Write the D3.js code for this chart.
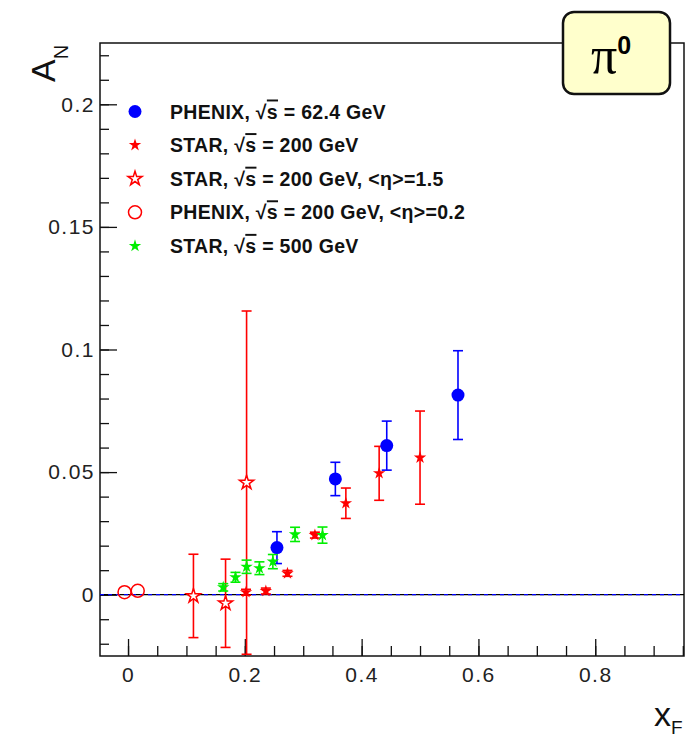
<!DOCTYPE html>
<html>
<head>
<meta charset="utf-8">
<script src="https://cdn.jsdelivr.net/npm/d3@7"></script>
<style>
  body { margin: 0; background: #fff; }
  svg { display: block; }
  text { font-family: "Liberation Sans", Arial, Helvetica, sans-serif; }
</style>
</head>
<body>
<div id="chart"></div>
<script>
// PHENIX sqrt(s) = 62.4 GeV
var phenix62X   = [0.255, 0.355, 0.443, 0.565];
var phenix62Y   = [0.0192, 0.0472, 0.0608, 0.0814];
var phenix62Err = [0.0065, 0.0068, 0.0100, 0.0181];

// STAR sqrt(s) = 200 GeV
var star200X   = [0.202, 0.236, 0.273, 0.320, 0.373, 0.430, 0.500];
var star200Y   = [0.0010, 0.0015, 0.0087, 0.0243, 0.0373, 0.0495, 0.0559];
var star200Err = [0.0012, 0.0012, 0.0012, 0.0012, 0.0062, 0.0110, 0.0190];

// STAR sqrt(s) = 200 GeV, <eta> = 1.5
var starEtaX   = [0.112, 0.167, 0.203];
var starEtaY   = [-0.0005, -0.0035, 0.0457];
var starEtaErr = [0.017, 0.018, 0.070];

// PHENIX sqrt(s) = 200 GeV, <eta> = 0.2
var phenixEtaX   = [-0.006, 0.0166];
var phenixEtaY   = [0.0010, 0.0016];
var phenixEtaErr = [0, 0];

// STAR sqrt(s) = 500 GeV
var star500X   = [0.163, 0.184, 0.203, 0.225, 0.248, 0.286, 0.333];
var star500Y   = [0.0030, 0.0071, 0.0114, 0.0108, 0.0135, 0.0246, 0.0243];
var star500Err = [0.0015, 0.0020, 0.0027, 0.0026, 0.0029, 0.0029, 0.0033];

var xTicks = [0, 0.2, 0.4, 0.6, 0.8];
var yTicks = [0, 0.05, 0.1, 0.15, 0.2];

var legendLabels = [
  ["PHENIX, ", " = 62.4 GeV"],
  ["STAR, ", " = 200 GeV"],
  ["STAR, ", " = 200 GeV, <\u03b7>=1.5"],
  ["PHENIX, ", " = 200 GeV, <\u03b7>=0.2"],
  ["STAR, ", " = 500 GeV"]
];

var W = 694, H = 738;
var frame = {left: 100, top: 43, right: 684, bottom: 656};

var svg = d3.select("#chart").append("svg")
  .attr("width", W)
  .attr("height", H);

var x = d3.scaleLinear().domain([-0.048, 0.952]).range([frame.left, frame.right]);
var y = d3.scaleLinear().domain([-0.025, 0.225]).range([frame.bottom, frame.top]);

svg.append("clipPath").attr("id", "clip")
  .append("rect")
  .attr("x", frame.left).attr("y", frame.top)
  .attr("width", frame.right - frame.left).attr("height", frame.bottom - frame.top);

// axes: major + minor ticks pointing inward
var minorY = d3.range(-2, 23).map(function(d) { return d / 100; });
var minorX = d3.range(0, 20).map(function(d) { return d * 0.05; });

svg.append("g")
  .attr("transform", "translate(" + frame.left + ",0)")
  .call(d3.axisLeft(y).tickValues(minorY).tickSize(-9).tickFormat(""))
  .call(function(g) { g.select(".domain").remove(); });

svg.append("g")
  .attr("transform", "translate(" + frame.left + ",0)")
  .call(d3.axisLeft(y).tickValues(yTicks).tickSize(-17).tickPadding(5)
    .tickFormat(function(d) { return d === 0 ? "0" : String(+d.toFixed(2)); }))
  .call(function(g) { g.select(".domain").remove(); })
  .selectAll("text")
  .attr("font-size", 21).attr("fill", "#222").attr("letter-spacing", 1.5)
  .attr("font-family", "Liberation Sans, Arial, sans-serif");

svg.append("g")
  .attr("transform", "translate(0," + frame.bottom + ")")
  .call(d3.axisBottom(x).tickValues(minorX).tickSize(-10).tickFormat(""))
  .call(function(g) { g.select(".domain").remove(); });

svg.append("g")
  .attr("transform", "translate(0," + frame.bottom + ")")
  .call(d3.axisBottom(x).tickValues(xTicks).tickSize(-17).tickPadding(11)
    .tickFormat(function(d) { return d === 0 ? "0" : String(d); }))
  .call(function(g) { g.select(".domain").remove(); })
  .selectAll("text")
  .attr("font-size", 21).attr("fill", "#222").attr("letter-spacing", 1.5)
  .attr("font-family", "Liberation Sans, Arial, sans-serif");

svg.selectAll(".tick line").attr("stroke", "#111").attr("stroke-width", 1.3);

// frame
svg.append("rect")
  .attr("x", frame.left).attr("y", frame.top)
  .attr("width", frame.right - frame.left).attr("height", frame.bottom - frame.top)
  .attr("fill", "none").attr("stroke", "#111").attr("stroke-width", 1.5);

// zero line
var plot = svg.append("g").attr("clip-path", "url(#clip)");
plot.append("line")
  .attr("x1", frame.left).attr("x2", frame.right)
  .attr("y1", y(0)).attr("y2", y(0))
  .attr("stroke", "#000").attr("stroke-width", 1.2);
plot.append("line")
  .attr("x1", frame.left).attr("x2", frame.right)
  .attr("y1", y(0)).attr("y2", y(0))
  .attr("stroke", "#0000ff").attr("stroke-width", 1.2)
  .attr("stroke-dasharray", "4,4");

function zip(xs, ys, es) {
  return xs.map(function(v, i) { return {x: v, y: ys[i], e: es[i]}; });
}

function errorBars(data, color) {
  var g = plot.append("g").attr("stroke", color).attr("stroke-width", 1.6);
  data.filter(function(d) { return d.e > 0; }).forEach(function(d) {
    var cx = x(d.x);
    g.append("line").attr("x1", cx).attr("x2", cx)
      .attr("y1", y(d.y - d.e)).attr("y2", y(d.y + d.e));
    [d.y - d.e, d.y + d.e].forEach(function(v) {
      g.append("line").attr("x1", cx - 5).attr("x2", cx + 5)
        .attr("y1", y(v)).attr("y2", y(v));
    });
  });
}

var starFilled = d3.symbol().type(d3.symbolStar).size(48);
var starOpen = d3.symbol().type(d3.symbolStar).size(62);

var series = [
  {data: zip(phenix62X, phenix62Y, phenix62Err), color: "#0000ff", kind: "circle"},
  {data: zip(star200X, star200Y, star200Err), color: "#ff0000", kind: "star"},
  {data: zip(starEtaX, starEtaY, starEtaErr), color: "#ff0000", kind: "openstar"},
  {data: zip(phenixEtaX, phenixEtaY, phenixEtaErr), color: "#ff0000", kind: "opencircle"},
  {data: zip(star500X, star500Y, star500Err), color: "#00ee00", kind: "star"}
];

function drawMarker(g, kind, color, px, py) {
  if (kind === "circle") {
    g.append("circle").attr("cx", px).attr("cy", py).attr("r", 6.5).attr("fill", color);
  } else if (kind === "opencircle") {
    g.append("circle").attr("cx", px).attr("cy", py).attr("r", 6.5)
      .attr("fill", "none").attr("stroke", color).attr("stroke-width", 1.5);
  } else if (kind === "star") {
    g.append("path").attr("d", starFilled())
      .attr("transform", "translate(" + px + "," + py + ")").attr("fill", color);
  } else {
    g.append("path").attr("d", starOpen())
      .attr("transform", "translate(" + px + "," + py + ")")
      .attr("fill", "#fff").attr("stroke", color).attr("stroke-width", 1.5);
  }
}

series.forEach(function(s) {
  errorBars(s.data, s.color);
});
series.forEach(function(s) {
  var g = plot.append("g");
  s.data.forEach(function(d) { drawMarker(g, s.kind, s.color, x(d.x), y(d.y)); });
});

// legend
var leg = svg.append("g");
series.forEach(function(s, i) {
  var ly = 111.5 + i * 33.6;
  drawMarker(leg, s.kind, s.color, 135, ly);
  var t = leg.append("text")
    .attr("x", 170).attr("y", ly + 7)
    .attr("font-size", 19.5).attr("font-weight", "bold").attr("fill", "#111")
    .attr("letter-spacing", 0.3);
  t.append("tspan").text(legendLabels[i][0]);
  t.append("tspan").text("\u221a");
  t.append("tspan").text("s").style("text-decoration", "overline");
  t.append("tspan").text(legendLabels[i][1]);
});

// axis titles
var yt = svg.append("text")
  .attr("transform", "translate(55,82) rotate(-90)")
  .attr("font-size", 34).attr("fill", "#111");
yt.append("tspan").text("A");
yt.append("tspan").attr("dy", 13).attr("font-size", 20).text("N");

var xt = svg.append("text")
  .attr("x", 654).attr("y", 726)
  .attr("font-size", 34).attr("fill", "#111");
xt.append("tspan").text("x");
xt.append("tspan").attr("dy", 8).attr("font-size", 19).text("F");

// pi0 box
svg.append("rect")
  .attr("x", 563).attr("y", 12).attr("width", 107).attr("height", 82)
  .attr("rx", 11).attr("ry", 11)
  .attr("fill", "#ffffcc").attr("stroke", "#111").attr("stroke-width", 2.5);
var pt = svg.append("text")
  .attr("x", 591).attr("y", 73).attr("fill", "#000");
pt.append("tspan").attr("font-family", "Liberation Serif, Times New Roman, serif")
  .attr("font-size", 52).text("\u03c0");
pt.append("tspan").attr("dy", -19).attr("font-size", 25).attr("font-weight", "bold").text("0");
</script>
</body>
</html>
